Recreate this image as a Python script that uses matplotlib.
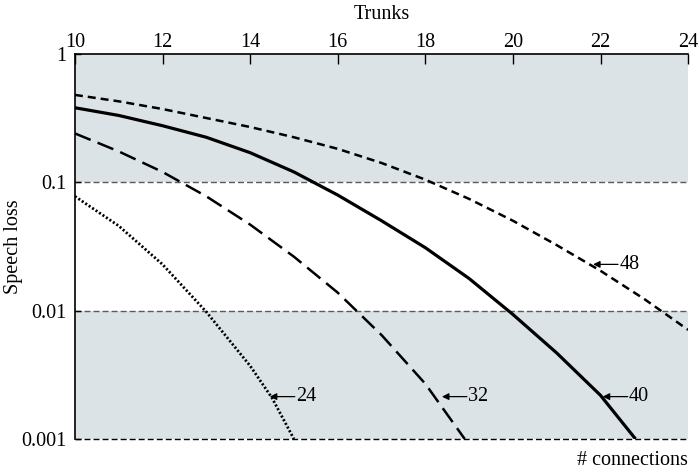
import matplotlib.pyplot as plt
import numpy as np

plt.rcParams["font.family"] = ["Liberation Serif", "DejaVu Serif"]

# Speech loss curves (log10 of loss), one per number of connections
trunks_24 = [10, 11, 12, 13, 14, 14.5, 15]
loss_24 = [-1.11, -1.34, -1.64, -2.01, -2.43, -2.68, -3.0]

trunks_32 = [10, 11, 12, 13, 14, 15, 16, 17, 18, 18.9]
loss_32 = [-0.62, -0.76, -0.92, -1.11, -1.33, -1.58, -1.86, -2.19, -2.57, -3.0]

trunks_40 = [10, 11, 12, 13, 14, 15, 16, 17, 18, 19, 20, 21, 22, 22.8]
loss_40 = [-0.42, -0.48, -0.56, -0.65, -0.77, -0.92, -1.10, -1.30, -1.51,
           -1.75, -2.03, -2.33, -2.66, -3.0]

trunks_48 = [10, 11, 12, 13, 14, 15, 16, 17, 18, 19, 20, 21, 22, 23, 24]
loss_48 = [-0.32, -0.37, -0.43, -0.50, -0.57, -0.65, -0.74, -0.85, -0.98,
           -1.13, -1.30, -1.49, -1.69, -1.91, -2.15]

# label positions (trunks, speech loss) where the arrows touch each curve
label_names = ["24", "32", "40", "48"]
label_x = [14.45, 18.38, 22.05, 21.83]
label_y = [10 ** -2.67, 10 ** -2.67, 10 ** -2.67, 10 ** -1.64]

shaded_bands = [(0.1, 1.0), (0.001, 0.01)]
grid_levels = [0.1, 0.01]

x_ticks = [10, 12, 14, 16, 18, 20, 22, 24]
y_ticks = [1, 0.1, 0.01, 0.001]
y_tick_labels = ["1", "0.1", "0.01", "0.001"]

fig = plt.figure(figsize=(7, 4.68), dpi=100)
ax = fig.add_axes([0.107, 0.062, 0.876, 0.823])
ax.set_yscale("log")
ax.set_xlim(10, 24)
ax.set_ylim(0.001, 1)

for lo, hi in shaded_bands:
  ax.axhspan(lo, hi, color="#dce3e6", lw=0, zorder=0)
for lvl in grid_levels:
  ax.axhline(lvl, color="#5a5a5a", lw=1.0, dashes=(4.3, 2.2), zorder=1)
ax.axhline(0.001, color="black", lw=1.0, dashes=(4.3, 2.2), zorder=1, clip_on=False)

curve_kw = dict(color="black", zorder=3, solid_capstyle="butt",
                solid_joinstyle="round")
ax.plot(trunks_24, 10 ** np.array(loss_24), lw=2.0, dashes=(0.75, 0.75), **curve_kw)
ax.plot(trunks_32, 10 ** np.array(loss_32), lw=1.8, dashes=(6.8, 3.0), **curve_kw)
ax.plot(trunks_40, 10 ** np.array(loss_40), lw=2.3, **curve_kw)
ax.plot(trunks_48, 10 ** np.array(loss_48), lw=1.8, dashes=(3.2, 2.0), **curve_kw)

for name, x, y in zip(label_names, label_x, label_y):
  ax.annotate("", xy=(x, y), xytext=(x + 0.57, y),
              arrowprops=dict(arrowstyle="-|>", color="black", lw=0.9,
                              mutation_scale=10, shrinkA=0, shrinkB=0))
  ax.text(x + 0.6, y, name, fontsize=14.5, va="center", ha="left")

ax.xaxis.tick_top()
ax.set_xticks(x_ticks)
ax.tick_params(axis="x", direction="in", length=7, width=1, labelsize=14.5, pad=1)
ax.set_yticks(y_ticks)
ax.set_yticklabels(y_tick_labels)
ax.yaxis.set_minor_locator(plt.NullLocator())
ax.tick_params(axis="y", direction="in", length=4, width=1, labelsize=14.5, pad=6)

ax.spines["right"].set_visible(False)
ax.spines["bottom"].set_visible(False)
ax.spines["top"].set_linewidth(1.2)
ax.spines["left"].set_linewidth(1.2)

ax.set_title("Trunks", fontsize=14.5, pad=25)
ax.set_ylabel("Speech loss", fontsize=14.5)
ax.yaxis.set_label_coords(-0.084, 0.5)
fig.text(0.983, 0.017, "# connections", fontsize=14.5, ha="right", va="center")

fig.savefig("out.png", dpi=100)
